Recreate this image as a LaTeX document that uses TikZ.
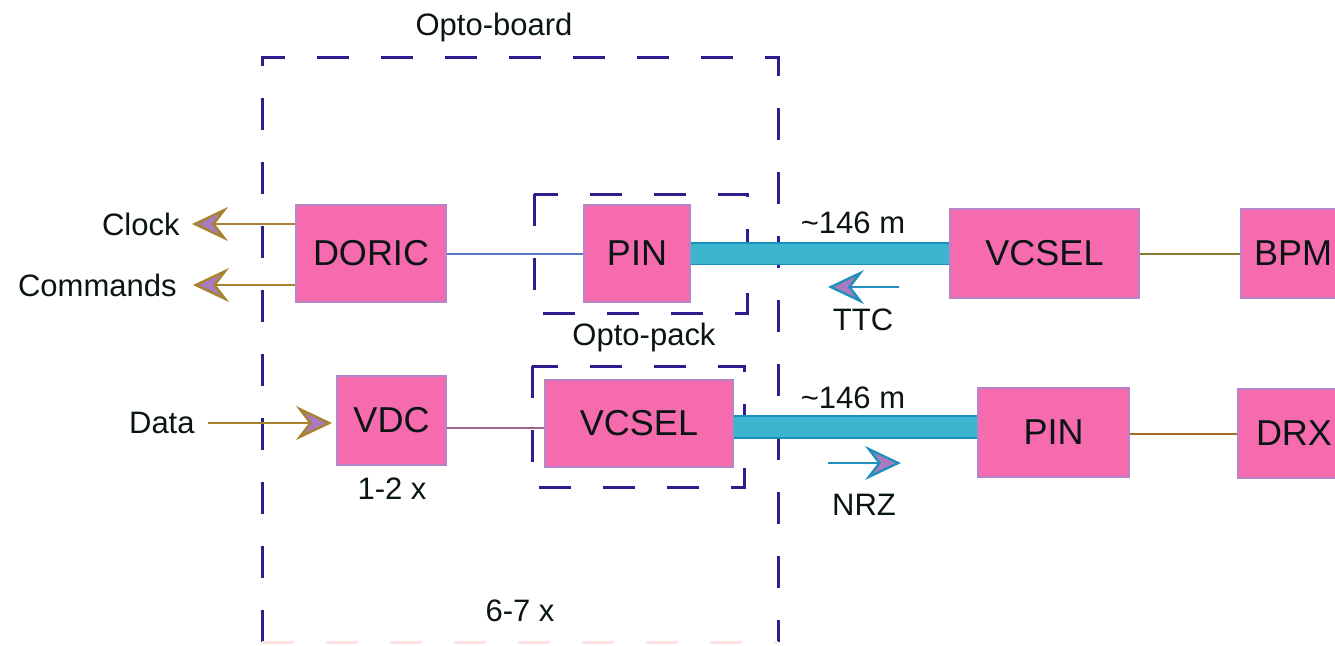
\documentclass[tikz,border=0pt]{standalone}
\usepackage{fontspec}
\setmainfont{Liberation Sans}
\usetikzlibrary{arrows.meta}
\definecolor{pinkfill}{HTML}{F66BAE}
\definecolor{pinkedge}{HTML}{B585C8}
\definecolor{navy}{HTML}{2A1D8E}
\definecolor{fibfill}{HTML}{3DB5CF}
\definecolor{fibedge}{HTML}{1A8EBD}
\definecolor{gold}{HTML}{A8822E}
\definecolor{headfill}{HTML}{A77BBD}
\definecolor{arrblue}{HTML}{2290BA}
\definecolor{linkblue}{HTML}{5F74C6}
\definecolor{linkpurple}{HTML}{A0628E}
\definecolor{linkolive}{HTML}{8C7A34}
\definecolor{linkbrown}{HTML}{A86A22}
\definecolor{textdark}{HTML}{0A1414}
\begin{document}
\begin{tikzpicture}[x=0.5pt,y=-0.5pt,
  blk/.style={draw=pinkedge, fill=pinkfill, line width=1pt, inner sep=0pt,
    font=\fontsize{18}{20}\selectfont, text=textdark},
  lbl/.style={font=\fontsize{15.5}{18}\selectfont, text=textdark, inner sep=0pt},
  dbox/.style={draw=navy, line width=1.5pt, dash pattern=on 16pt off 16pt},
  fiber/.style={draw=fibedge, line width=0.9pt, double=fibfill, double distance=10pt},
  garrow/.style={draw=gold, line width=1.3pt,
    -{Stealth[length=18pt, width=17pt, inset=6.5pt, line width=1.2pt, fill=headfill]}},
  barrow/.style={draw=arrblue, line width=1.3pt,
    -{Stealth[length=18pt, width=17pt, inset=6.5pt, line width=1.2pt, fill=headfill]}},
  link/.style={line width=1pt}]
\useasboundingbox (0,0) rectangle (1335,645);
\clip (0,0) rectangle (1335,645);

% dashed boxes
\draw[dbox] (262,642) -- (262,57) -- (778,57) -- (778,642);
\draw[dbox, draw=pink!45] (262,642) -- (778,642);
\draw[dbox] (534,194) rectangle (747,313);
\draw[dbox] (532,366) rectangle (744,487);

% blocks
\node[blk, minimum width=75pt, minimum height=48.5pt] (doric) at (371,253.5) {DORIC};
\node[blk, minimum width=53pt, minimum height=48.5pt] (pinT) at (637,253.5) {PIN};
\node[blk, minimum width=94.5pt, minimum height=44.5pt] (vcselT) at (1044.5,253.5) {VCSEL};
\node[blk, minimum width=52pt, minimum height=44.5pt] (bpm) at (1293,253.5) {BPM};
\node[blk, minimum width=54.5pt, minimum height=44.5pt] (vdc) at (391.5,420.5) {VDC};
\node[blk, minimum width=94pt, minimum height=43.5pt] (vcselB) at (639,423.5) {VCSEL};
\node[blk, minimum width=75.5pt, minimum height=44.5pt] (pinB) at (1053.5,432.5) {PIN};
\node[blk, minimum width=56pt, minimum height=44.5pt] (drx) at (1294,433.5) {DRX};

% helper coordinates
\coordinate (fb) at (0,427);
\coordinate (lb) at (0,428);
\coordinate (clocktip) at (192,224);
\coordinate (cmdtip) at (193,285);
\coordinate (datatail) at (208,423);
\coordinate (datatip) at (332,423);
\coordinate (ttctail) at (899,287);
\coordinate (ttctip) at (828,287);
\coordinate (nrztail) at (828,463);
\coordinate (nrztip) at (901,463);

% links
\draw[link, draw=linkblue] (doric.east) -- (pinT.west);
\draw[link, draw=linkpurple] (vdc.east |- lb) -- (vcselB.west |- lb);
\draw[link, draw=linkolive] (vcselT.east) -- (bpm.west);
\draw[link, draw=linkbrown] (pinB.east |- drx.west) -- (drx.west);

% fibers
\draw[fiber] (pinT.east) -- (vcselT.west);
\draw[fiber] (vcselB.east |- fb) -- (pinB.west |- fb);

% labels
\node[lbl, anchor=east] (clock) at (180,224) {Clock};
\node[lbl, anchor=east] (cmd) at (177,285) {Commands};
\node[lbl, anchor=east] (data) at (195,423) {Data};
\node[lbl] (optoboard) at (494,27) {Opto-board};
\node[lbl] (optopack) at (644,337) {Opto-pack};
\node[lbl] (lenT) at (853,223) {\textasciitilde 146 m};
\node[lbl] (lenB) at (853,398) {\textasciitilde 146 m};
\node[lbl] (ttc) at (863,320) {TTC};
\node[lbl] (nrz) at (864,505) {NRZ};
\node[lbl] (mult12) at (392,489) {1-2 x};
\node[lbl] (mult67) at (520,611) {6-7 x};

% arrows
\draw[garrow] (doric.west |- clocktip) -- (clocktip);
\draw[garrow] (doric.west |- cmdtip) -- (cmdtip);
\draw[garrow] (datatail) -- (datatip);
\draw[barrow] (ttctail) -- (ttctip);
\draw[barrow] (nrztail) -- (nrztip);
\end{tikzpicture}
\end{document}
